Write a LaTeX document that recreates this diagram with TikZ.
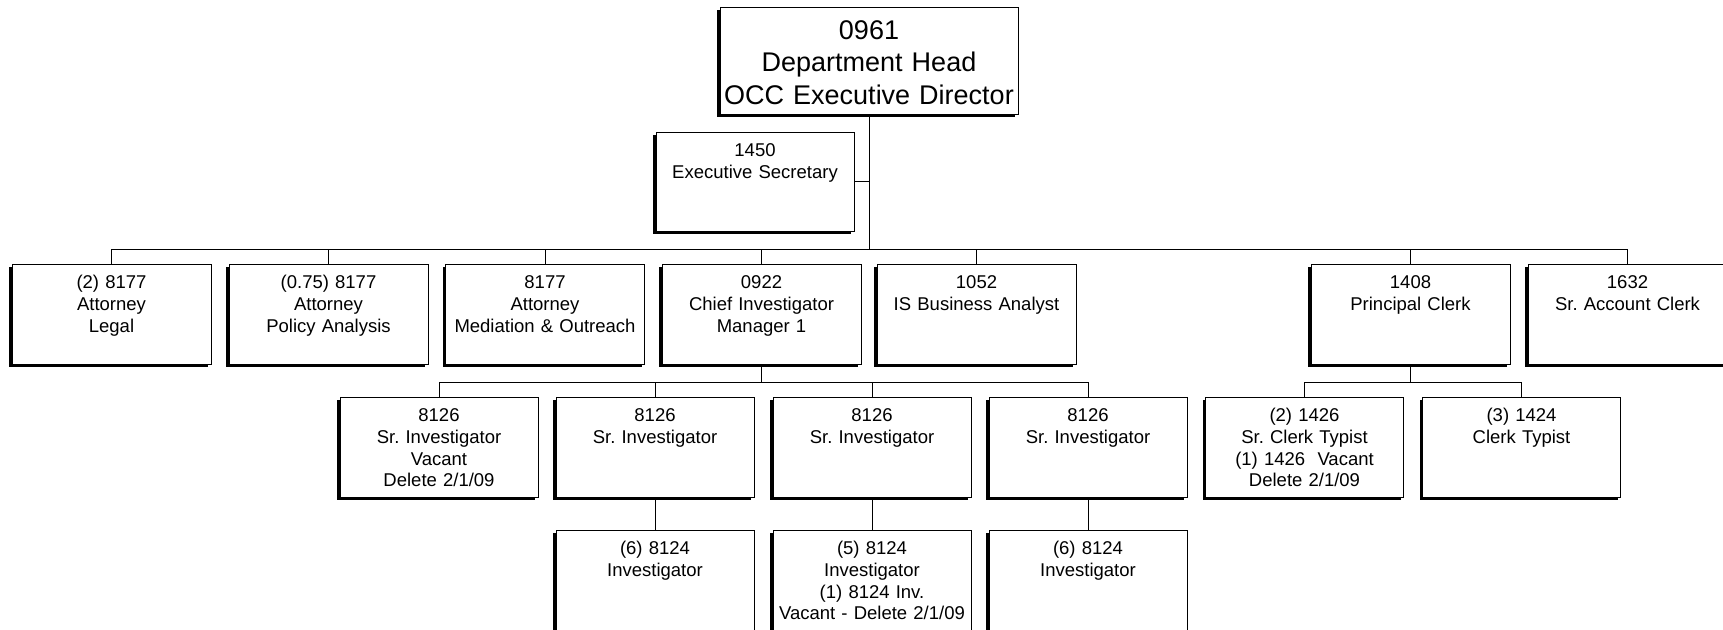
\documentclass[tikz,border=0pt]{standalone}
\usepackage{fontspec}
\setmainfont{Liberation Sans}
\usetikzlibrary{shadows}
\frenchspacing
\tikzset{
  orgbox/.style={draw=black, fill=white, line width=0.9pt, inner sep=0pt, anchor=north,
    drop shadow={shadow xshift=-3pt, shadow yshift=-3pt, fill=black, draw=none, opacity=1}},
  orgtext/.style={anchor=base, inner sep=0pt, text width=196pt, align=center,
    font=\fontsize{18.5}{21.7}\selectfont},
  bigtext/.style={anchor=base, inner sep=0pt, text width=294pt, align=center,
    font=\fontsize{27}{32.5}\selectfont},
  conn/.style={draw=black, line width=1pt},
}
\newcommand\orgbox[6]{%
  \node[orgbox, minimum width=#4pt, minimum height=#5pt] (#1) at (#2,#3) {};
  \node[orgtext] (#1-t) at (#2,#3+24.6) {#6};}
\begin{document}
\begin{tikzpicture}[x=1pt, y=-1pt]
\useasboundingbox (0,0) rectangle (1723,629);
\fill[white] (0,0) rectangle (1723,629);
\clip (0,0) rectangle (1723,629);

% top
\node[orgbox, minimum width=298pt, minimum height=107pt] (top) at (869,7) {};
\node[bigtext] (top-t) at (869,39) {0961\\Department Head\\OCC Executive Director};

\orgbox{sec}{755}{132}{198}{99}{1450\\Executive Secretary}

% row 2
\orgbox{att1}{111.5}{264}{199}{100}{(2) 8177\\Attorney\\Legal}
\orgbox{att2}{328.5}{264}{199}{100}{(0.75) 8177\\Attorney\\Policy Analysis}
\orgbox{att3}{545}{264}{199}{100}{8177\\Attorney\\Mediation \& Outreach}
\orgbox{chief}{761.5}{264}{199}{100}{0922\\Chief Investigator\\Manager 1}
\orgbox{isba}{976.5}{264}{199}{100}{1052\\IS Business Analyst}
\orgbox{pclerk}{1410.5}{264}{199}{100}{1408\\Principal Clerk}
\orgbox{acct}{1627.5}{264}{199}{100}{1632\\Sr. Account Clerk}

% row 3
\orgbox{si1}{439}{397}{198}{100}{8126\\Sr. Investigator\\Vacant\\Delete 2/1/09}
\orgbox{si2}{655}{397}{198}{100}{8126\\Sr. Investigator}
\orgbox{si3}{872}{397}{198}{100}{8126\\Sr. Investigator}
\orgbox{si4}{1088}{397}{198}{100}{8126\\Sr. Investigator}
\orgbox{sct}{1304.5}{397}{198}{100}{(2) 1426\\Sr. Clerk Typist\\(1) 1426~~Vacant\\Delete 2/1/09}
\orgbox{ct}{1521.5}{397}{198}{100}{(3) 1424\\Clerk Typist}

% row 4
\orgbox{inv1}{655}{530}{198}{100}{(6) 8124\\Investigator}
\orgbox{inv2}{872}{530}{198}{100}{(5) 8124\\Investigator\\(1) 8124 Inv.\\Vacant - Delete 2/1/09}
\orgbox{inv3}{1088}{530}{198}{100}{(6) 8124\\Investigator}

% connectors
\coordinate (b1) at (869,249);
\draw[conn] (top.south) -- (b1);
\draw[conn] (sec.east) -- (sec.east -| top.south);
\foreach \c in {att1,att2,att3,chief,isba,pclerk,acct}{\draw[conn] (b1) -| (\c.north);}

\coordinate (b2) at (761.5,382);
\draw[conn] (chief.south) -- (b2);
\foreach \c in {si1,si2,si3,si4}{\draw[conn] (b2) -| (\c.north);}

\coordinate (b3) at (1410.5,382);
\draw[conn] (pclerk.south) -- (b3);
\foreach \c in {sct,ct}{\draw[conn] (b3) -| (\c.north);}

\draw[conn] (si2.south) -- (inv1.north);
\draw[conn] (si3.south) -- (inv2.north);
\draw[conn] (si4.south) -- (inv3.north);
\end{tikzpicture}
\end{document}
